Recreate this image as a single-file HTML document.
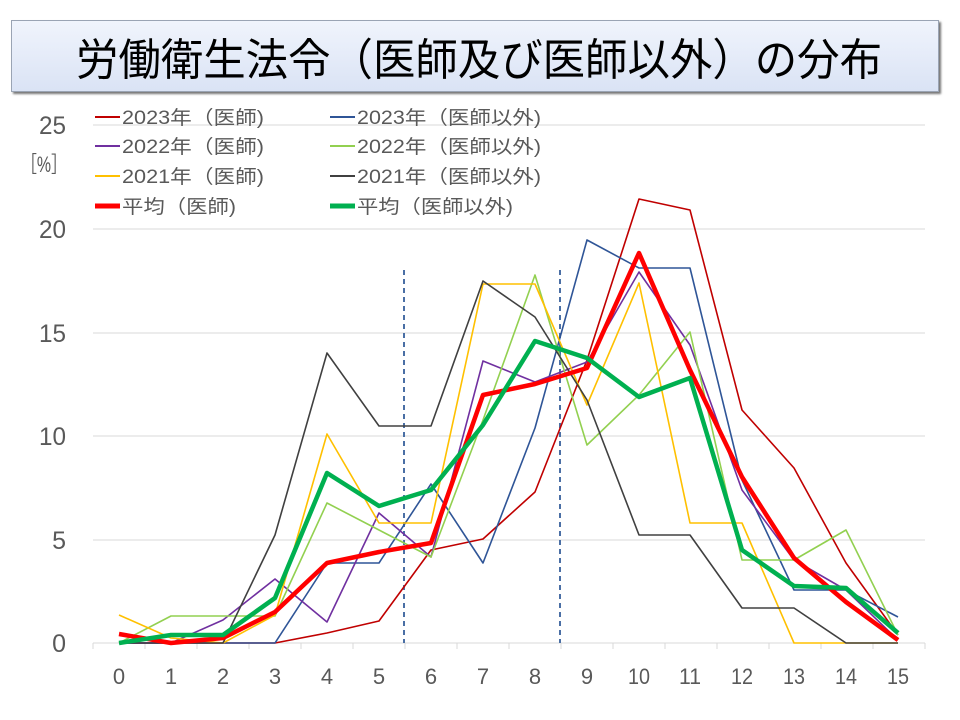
<!DOCTYPE html><html><head><meta charset="utf-8"><style>
body{margin:0;background:#fff;width:960px;height:720px;overflow:hidden;font-family:"Liberation Sans","Noto Sans CJK JP",sans-serif}
.t{position:absolute;left:11px;top:20px;width:926px;height:70px;background:linear-gradient(#f0f4fc,#dae3f5);border:1px solid #9aa4b4;box-shadow:2px 2px 2px #777}
</style></head><body>
<div class="t"></div>
<svg width="960" height="720" style="position:absolute;left:0;top:0">
<text x="76" y="75" font-size="44" textLength="806" lengthAdjust="spacingAndGlyphs" fill="#000">労働衛生法令（医師及び医師以外）の分布</text>
<g stroke="#d9d9d9" stroke-width="1">
<line x1="93" x2="925" y1="125" y2="125"/><line x1="93" x2="925" y1="229" y2="229"/><line x1="93" x2="925" y1="333" y2="333"/><line x1="93" x2="925" y1="436" y2="436"/><line x1="93" x2="925" y1="540" y2="540"/><line x1="93" x2="925" y1="643" y2="643"/>
</g>
<g stroke="#d9d9d9"><path d="M93 643v6M145 643v6M197 643v6M249 643v6M301 643v6M353 643v6M405 643v6M457 643v6M509 643v6M561 643v6M613 643v6M665 643v6M717 643v6M769 643v6M821 643v6M873 643v6M925 643v6"/></g>
<g font-size="25" fill="#595959" text-anchor="end" lengthAdjust="spacingAndGlyphs">
<text x="66" y="134" textLength="27" lengthAdjust="spacingAndGlyphs">25</text><text x="66" y="238" textLength="27" lengthAdjust="spacingAndGlyphs">20</text><text x="66" y="342" textLength="27" lengthAdjust="spacingAndGlyphs">15</text><text x="66" y="445" textLength="27" lengthAdjust="spacingAndGlyphs">10</text><text x="66" y="549">5</text><text x="66" y="652">0</text>
<text x="67" y="172" font-size="22" textLength="46" lengthAdjust="spacingAndGlyphs">［%］</text></g>
<g font-size="22" fill="#595959" text-anchor="middle">
<text x="119" y="684">0</text><text x="171" y="684">1</text><text x="223" y="684">2</text><text x="275" y="684">3</text><text x="327" y="684">4</text><text x="379" y="684">5</text><text x="431" y="684">6</text><text x="483" y="684">7</text><text x="535" y="684">8</text><text x="587" y="684">9</text><text x="639" y="684" textLength="22" lengthAdjust="spacingAndGlyphs">10</text><text x="690" y="684" textLength="22" lengthAdjust="spacingAndGlyphs">11</text><text x="742" y="684" textLength="22" lengthAdjust="spacingAndGlyphs">12</text><text x="794" y="684" textLength="22" lengthAdjust="spacingAndGlyphs">13</text><text x="846" y="684" textLength="22" lengthAdjust="spacingAndGlyphs">14</text><text x="898" y="684" textLength="22" lengthAdjust="spacingAndGlyphs">15</text></g>
<g stroke="#4a6fa5" stroke-width="2" stroke-dasharray="5,4"><line x1="404" x2="404" y1="270" y2="643"/><line x1="560" x2="560" y1="270" y2="643"/></g>
<g fill="none" stroke-linejoin="round">
<polyline stroke="#c00000" stroke-width="1.6" points="119,643 171,643 223,643 275,643 327,633 379,621 431,550 483,539 535,492 587,360 639,199 690,210 742,410 794,468 846,563 898,635"/>
<polyline stroke="#2f5597" stroke-width="1.6" points="119,643 171,643 223,643 275,643 327,563 379,563 431,484 483,563 535,428 587,240 639,268 690,268 742,480 794,590 846,590 898,617"/>
<polyline stroke="#7030a0" stroke-width="1.6" points="119,643 171,643 223,620 275,579 327,622 379,513 431,557 483,361 535,382 587,362 639,272 690,345 742,490 794,560 846,590 898,640"/>
<polyline stroke="#92d050" stroke-width="1.6" points="119,643 171,616 223,616 275,616 327,503 379,530 431,557 483,420 535,275 587,445 639,395 690,332 742,560 794,560 846,530 898,635"/>
<polyline stroke="#ffc000" stroke-width="1.6" points="119,615 171,638 223,643 275,615 327,434 379,523 431,523 483,284 535,284 587,405 639,283 690,523 742,523 794,643 846,643 898,643"/>
<polyline stroke="#404040" stroke-width="1.6" points="119,643 171,643 223,643 275,535 327,353 379,426 431,426 483,281 535,317 587,400 639,535 690,535 742,608 794,608 846,643 898,643"/>
<polyline stroke="#ff0000" stroke-width="4.5" points="119,634 171,643 223,638 275,612 327,563 379,552 431,543 483,395 535,384 587,368 639,253 690,370 742,477 794,558 846,602 898,640"/>
<polyline stroke="#00b050" stroke-width="4.5" points="119,643 171,635 223,635 275,598 327,473 379,506 431,490 483,425 535,341 587,358 639,397 690,378 742,550 794,586 846,588 898,633"/>
</g>
<g font-size="19" fill="#595959">
<line x1="95" x2="120" y1="117" y2="117" stroke="#c00000" stroke-width="2"/><text x="122" y="124" textLength="142" lengthAdjust="spacingAndGlyphs">2023年（医師)</text>
<line x1="330" x2="355" y1="117" y2="117" stroke="#2f5597" stroke-width="2"/><text x="357" y="124" textLength="184" lengthAdjust="spacingAndGlyphs">2023年（医師以外)</text>
<line x1="95" x2="120" y1="146" y2="146" stroke="#7030a0" stroke-width="2"/><text x="122" y="153" textLength="142" lengthAdjust="spacingAndGlyphs">2022年（医師)</text>
<line x1="330" x2="355" y1="146" y2="146" stroke="#92d050" stroke-width="2"/><text x="357" y="153" textLength="184" lengthAdjust="spacingAndGlyphs">2022年（医師以外)</text>
<line x1="95" x2="120" y1="176" y2="176" stroke="#ffc000" stroke-width="2"/><text x="122" y="183" textLength="142" lengthAdjust="spacingAndGlyphs">2021年（医師)</text>
<line x1="330" x2="355" y1="176" y2="176" stroke="#404040" stroke-width="2"/><text x="357" y="183" textLength="184" lengthAdjust="spacingAndGlyphs">2021年（医師以外)</text>
<line x1="95" x2="120" y1="206" y2="206" stroke="#ff0000" stroke-width="5"/><text x="122" y="213" textLength="114" lengthAdjust="spacingAndGlyphs">平均（医師)</text>
<line x1="330" x2="355" y1="206" y2="206" stroke="#00b050" stroke-width="5"/><text x="357" y="213" textLength="156" lengthAdjust="spacingAndGlyphs">平均（医師以外)</text>
</g>
</svg>
</body></html>
